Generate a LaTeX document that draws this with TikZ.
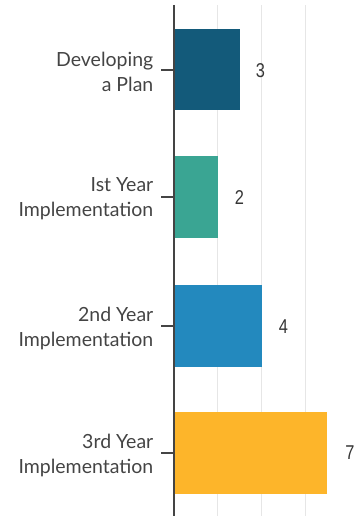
\documentclass[tikz,border=0pt]{standalone}
\usepackage{fontspec}
\setmainfont{Lato}
\newfontfamily\numfont[FakeStretch=0.82]{Liberation Sans}
\usetikzlibrary{calc}
\definecolor{planblue}{HTML}{135A7A}
\definecolor{yearone}{HTML}{3AA593}
\definecolor{yeartwo}{HTML}{2389BE}
\definecolor{yearthree}{HTML}{FDB52A}
\definecolor{labelgray}{HTML}{444444}
\definecolor{gridgray}{HTML}{E6E6E6}
\begin{document}
\begin{tikzpicture}[x=1pt, y=-1pt, line cap=butt,
	catlabel/.style={anchor=east, align=right, text=labelgray, font=\fontsize{19.5}{25}\selectfont, inner sep=0pt},
	vallabel/.style={anchor=center, text=labelgray!80!black, font=\numfont\fontsize{20}{22}\selectfont, inner sep=0pt}]
		
		\useasboundingbox (0,0) rectangle (356,516);
		
		%========================
		% grid and axis
		%========================
		\draw[gridgray, line width=1pt] (217.6,5) -- (217.6,516);
		\draw[gridgray, line width=1pt] (261.5,5) -- (261.5,516);
		\draw[gridgray, line width=1pt] (305.3,5) -- (305.3,516);
		
		%========================
		% bars (1 unit = 21.93pt)
		%========================
		\fill[planblue]  (173.7,29)  rectangle (239.5,110);
		\fill[yearone]   (173.7,156) rectangle (217.6,238);
		\fill[yeartwo]   (173.7,285) rectangle (261.5,367);
		\fill[yearthree] (173.7,412) rectangle (327.2,494);
		
		% axis
		\draw[labelgray, line width=1.6pt] (173.7,5) -- (173.7,516);
		
		%========================
		% ticks and category labels
		%========================
		\coordinate (t1) at (173.7,70);
		\coordinate (t2) at (173.7,197);
		\coordinate (t3) at (173.7,326);
		\coordinate (t4) at (173.7,453);
		\node[catlabel] (plan)  at (153.5,72)  {Developing\\a Plan};
		\node[catlabel] (first) at (153.5,199) {Ist Year\\Implementation};
		\node[catlabel] (second) at (153.5,328) {2nd Year\\Implementation};
		\node[catlabel] (third) at (153.5,455) {3rd Year\\Implementation};
		\draw[labelgray, line width=1.2pt] (t1) -- ++(-13,0);
		\draw[labelgray, line width=1.2pt] (t2) -- ++(-13,0);
		\draw[labelgray, line width=1.2pt] (t3) -- ++(-13,0);
		\draw[labelgray, line width=1.2pt] (t4) -- ++(-13,0);
		
		%========================
		% value labels
		%========================
		\node[vallabel] (v1) at (260.5,71)  {3};
		\node[vallabel] (v2) at (239.5,198) {2};
		\node[vallabel] (v3) at (283.5,327) {4};
		\node[vallabel] (v4) at (350,453)   {7};
		
	\end{tikzpicture}
\end{document}
